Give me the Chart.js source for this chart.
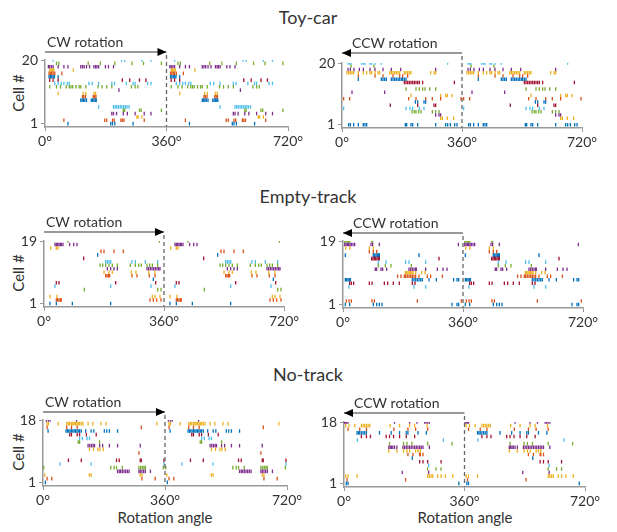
<!DOCTYPE html>
<html>
<head>
<meta charset="utf-8">
<script src="https://cdn.jsdelivr.net/npm/chart.js@4.4.1/dist/chart.umd.min.js"></script>
<style>
  body { margin: 0; background: #fff; }
  #wrap { position: relative; width: 617px; height: 532px; font-family: Lato, "Open Sans", sans-serif; color: #333; }
  .box { position: absolute; }
  .lbl { position: absolute; white-space: nowrap; }
  .title { font-size: 18px; transform: translateX(-50%); }
  .ylab { font-size: 15px; transform: translate(-50%, -50%) rotate(-90deg); }
  .xlab { font-size: 15px; transform: translateX(-50%); }
</style>
</head>
<body>
<div id="wrap">
  <div class="lbl title" style="left:308px; top:6px;">Toy-car</div>
  <div class="lbl title" style="left:308px; top:185px;">Empty-track</div>
  <div class="lbl title" style="left:308px; top:363px;">No-track</div>
  <div class="lbl ylab" style="left:18px; top:93px;">Cell #</div>
  <div class="lbl ylab" style="left:18px; top:273px;">Cell #</div>
  <div class="lbl ylab" style="left:18px; top:452px;">Cell #</div>
  <div class="lbl xlab" style="left:165px; top:508px;">Rotation angle</div>
  <div class="lbl xlab" style="left:465px; top:508px;">Rotation angle</div>
</div>
<script>
// spike angles (deg) for one rotation, one list per cell, cell 1 first
const toyCarCW = [
  [68, 195, 200, 207, 261],
  [56, 177, 183, 200, 205, 225, 229, 234, 294],
  [272, 276, 287],
  [198, 203, 212, 232, 244, 267, 294, 314],
  [232, 236, 280, 285, 345],
  [159, 203, 208, 213, 218, 223, 228, 233, 238, 243, 249],
  [],
  [106, 110, 114, 118, 123, 137, 141, 145, 149, 152],
  [111, 115, 120, 143, 147, 151],
  [39, 113, 121, 145, 150],
  [219],
  [14, 34, 46, 63, 72, 77, 82, 92, 101, 106, 121, 157, 169, 183, 198, 256, 267, 275],
  [29, 39, 48, 56, 66, 72, 130, 140, 159, 198, 206, 241, 261, 267, 304, 314],
  [14, 24, 39, 229, 251, 280, 299],
  [12, 16, 20, 24, 28, 39],
  [12, 16, 20, 24, 29, 50],
  [14, 18, 22, 26, 84],
  [10, 14, 19, 24, 39, 56, 68, 106, 111, 116, 123, 132, 145, 150, 154, 159, 179, 188, 203],
  [34, 41, 128, 164, 207, 258, 292, 345],
  [24, 227, 236, 287, 314]
];
const toyCarCCW = [
  [20, 25, 35, 49, 64, 69, 74, 190, 194, 207, 212, 227, 281, 311, 317, 325, 338, 345],
  [],
  [296, 301, 316, 335],
  [281, 291, 296],
  [210, 217, 222, 230, 237, 271, 281, 291],
  [5, 192, 204, 212, 232, 246],
  [145, 227, 276, 281],
  [220, 227, 246, 251],
  [5, 23, 200, 222, 251, 271, 296, 357],
  [207, 296, 311, 316, 330],
  [30, 128],
  [192, 222, 232, 242, 249, 263, 281],
  [],
  [187, 192, 197, 202, 207, 212, 217, 222, 227, 232, 242, 337],
  [49, 118, 123, 128, 133, 148, 153, 158, 163, 168, 173, 178, 182, 187, 192],
  [49, 99, 123, 153, 173, 182, 197],
  [15, 20, 25, 30, 35, 49, 64, 74, 84, 89, 99, 108, 113, 143, 148, 153, 158, 163, 168, 173, 187, 192, 197, 202, 207, 266, 276, 281],
  [18, 25, 36, 52, 64, 84, 99, 123, 148, 176, 281],
  [27, 96],
  [18, 22, 27, 59, 64, 69, 84, 89, 99, 118, 317]
];
const emptyCW = [
  [18, 37, 85, 200],
  [37, 41, 45, 49, 52, 318, 328, 338, 351],
  [18, 39, 325, 333, 348],
  [],
  [121, 341, 351],
  [33, 200, 321],
  [37, 45, 215, 335],
  [328],
  [185, 189, 193, 197, 264, 279, 316, 333],
  [180, 195, 205, 262, 276, 314, 333],
  [190, 200, 210, 220, 309, 314, 319, 324, 329, 334, 339, 344, 348],
  [168, 176, 185, 195, 205, 220, 259, 274, 284, 292, 309, 317, 325, 341],
  [185, 190, 195, 200, 264, 274, 304, 341],
  [119],
  [161],
  [171, 180, 210, 238],
  [20, 37, 42],
  [33, 37, 41, 45, 49, 52, 57, 77, 89, 99],
  [72, 346]
];
const emptyCCW = [
  [7, 20, 91, 101, 109, 117, 327, 342, 347],
  [10, 18, 25, 87, 94, 223, 355],
  [],
  [],
  [],
  [18, 213, 248],
  [20, 25, 32, 79, 87, 124, 134, 151, 169, 208, 216],
  [7, 11, 15, 19, 22, 208, 213, 218, 223, 228, 233, 238, 258, 280, 332, 342, 347],
  [164, 174, 184, 188, 193, 198, 203, 208, 213, 218, 228, 253, 263, 298],
  [187, 191, 195, 199, 203, 207, 210, 218, 236, 246],
  [97, 101, 114, 119, 131, 198, 203, 208, 213, 218, 220, 248, 283, 300, 312],
  [106, 127, 144, 205],
  [106, 129, 188, 198, 248],
  [86, 90, 94, 98, 102, 106, 109, 288],
  [7, 91, 95, 99, 103, 107, 109, 228],
  [79, 91, 101],
  [8, 20, 79, 91],
  [5, 9, 13, 17, 21, 25, 30, 35, 84, 89, 109, 346],
  [5, 9, 13, 17, 20, 86, 89]
];
const noTrackCW = [
  [7],
  [12, 26, 292, 331],
  [5, 137, 142, 287, 292],
  [220, 225, 229, 234, 239, 244, 249, 254, 283, 287, 292, 297, 302, 317],
  [2, 200, 210, 217, 234, 283, 288, 293, 298, 302, 355],
  [50, 142, 357],
  [75, 113, 217, 225, 287, 290, 357],
  [],
  [283],
  [137, 149, 162, 168, 178],
  [133, 138, 143, 148, 152, 167, 176, 196, 220, 287],
  [104, 108, 167],
  [108, 116, 130, 137],
  [79, 84, 101, 108, 128, 157],
  [15, 68, 72, 76, 80, 84, 88, 92, 96, 100, 104, 108, 113, 126, 142, 150, 181, 188, 196, 220],
  [12, 70, 84, 101, 290],
  [12, 16, 45, 70, 75, 79, 84, 88, 92, 96, 100, 104, 108, 113, 118, 133, 147, 171, 186, 336],
  [10, 16, 21, 99]
];
const noTrackCCW = [
  [7, 12, 343],
  [9, 184],
  [5, 12, 39, 250, 255, 260, 265, 280, 290, 303, 325],
  [174, 253],
  [250, 275, 290],
  [253],
  [226, 236, 250, 290],
  [204],
  [191, 206, 226, 228, 236],
  [134, 158, 178, 188, 196, 214, 221, 228],
  [134, 138, 142, 146, 151, 158, 176, 181, 186, 191, 196, 201, 206, 211, 216, 221, 226, 231, 236, 255],
  [136, 178, 188, 203, 250, 323],
  [40, 297],
  [52, 67, 79, 126, 136, 148, 166, 186, 211],
  [39, 43, 47, 52, 57, 62, 67, 106, 141, 166, 186, 191, 221, 246],
  [12, 47, 67, 149, 191, 214, 250],
  [5, 15, 32, 52, 57, 62, 67, 72, 77, 138, 166, 196, 211, 248],
  [2, 5, 8, 12, 151, 196, 218, 241, 245, 250, 255]
];
const angleTicks = [0, 360, 720];
const cellColors = ["#0072BD", "#D95319", "#EDB120", "#7E2F8E", "#77AC30", "#4DBEEE", "#A2142F"];

Chart.defaults.font.family = 'Lato, "Open Sans", sans-serif';
Chart.defaults.color = "#333";

// chart area boxes in page pixels
const panels = [
  { cells: toyCarCW, dir: "CW", L: 45, R: 288, T: 60, B: 127, cx: 0, cy: 30, arrowY: 52 },
  { cells: toyCarCCW, dir: "CCW", L: 342, R: 582, T: 63, B: 128, cx: 308, cy: 30, arrowY: 53 },
  { cells: emptyCW, dir: "CW", L: 44, R: 284, T: 241, B: 307, cx: 0, cy: 210, arrowY: 232 },
  { cells: emptyCCW, dir: "CCW", L: 343, R: 583, T: 241, B: 308, cx: 308, cy: 210, arrowY: 233 },
  { cells: noTrackCW, dir: "CW", L: 43, R: 287, T: 420, B: 486, cx: 0, cy: 390, arrowY: 412 },
  { cells: noTrackCCW, dir: "CCW", L: 344, R: 585, T: 422, B: 487, cx: 308, cy: 390, arrowY: 413 }
];

const arrowPlugin = {
  id: "arrow",
  afterDatasetsDraw(chart, args, opts) {
    const ctx = chart.ctx;
    const x0 = chart.scales.x.getPixelForValue(0);
    const x360 = chart.scales.x.getPixelForValue(360);
    const ay = opts.y;
    ctx.save();
    // dashed line at 360
    ctx.strokeStyle = "#666";
    ctx.lineWidth = 1.3;
    ctx.setLineDash([4, 3]);
    ctx.beginPath();
    ctx.moveTo(x360, ay + 3);
    ctx.lineTo(x360, chart.chartArea.bottom);
    ctx.stroke();
    ctx.setLineDash([]);
    // arrow
    ctx.strokeStyle = "#777";
    ctx.lineWidth = 1.5;
    ctx.beginPath();
    ctx.moveTo(x0, ay);
    ctx.lineTo(x360, ay);
    ctx.stroke();
    const tip = opts.dir === "CW" ? x360 : x0;
    const back = opts.dir === "CW" ? -9 : 9;
    ctx.fillStyle = "#000";
    ctx.beginPath();
    ctx.moveTo(tip, ay);
    ctx.lineTo(tip + back, ay - 4);
    ctx.lineTo(tip + back, ay + 4);
    ctx.closePath();
    ctx.fill();
    ctx.fillStyle = "#333";
    ctx.font = '14px Lato, "Open Sans", sans-serif';
    ctx.textBaseline = "middle";
    ctx.fillText(opts.dir + " rotation", x0 + (opts.dir === "CW" ? 2 : 10), ay - 10);
    ctx.restore();
  }
};

const wrap = document.getElementById("wrap");
panels.forEach(p => {
  const w = p.cx === 0 ? 308 : 309;
  const h = 130;
  const yW = 30, xH = 25;
  const n = p.cells.length;
  const box = document.createElement("div");
  box.className = "box";
  box.style.left = p.cx + "px";
  box.style.top = p.cy + "px";
  const cv = document.createElement("canvas");
  cv.width = w; cv.height = h;
  cv.style.width = w + "px"; cv.style.height = h + "px";
  box.appendChild(cv);
  wrap.appendChild(box);

  // the figure plots the same cycle twice (0-360 and 360-720)
  const datasets = p.cells.map((angles, i) => ({
    data: angles.map(a => ({ x: a, y: i + 1 })).concat(angles.map(a => ({ x: a + 360, y: i + 1 }))),
    borderColor: cellColors[i % 7],
    backgroundColor: cellColors[i % 7],
    pointStyle: "line",
    rotation: 90,
    pointRadius: 1.8,
    borderWidth: 1.3
  }));

  new Chart(cv, {
    type: "scatter",
    data: { datasets },
    options: {
      responsive: false,
      animation: false,
      devicePixelRatio: 1,
      events: [],
      layout: {
        padding: {
          left: p.L - p.cx - yW,
          right: p.cx + w - p.R,
          top: p.T - p.cy,
          bottom: p.cy + h - p.B - xH
        }
      },
      plugins: {
        legend: { display: false },
        tooltip: { enabled: false },
        arrow: { dir: p.dir, y: p.arrowY - p.cy }
      },
      scales: {
        x: {
          type: "linear",
          min: 0,
          max: 720,
          afterBuildTicks: s => { s.ticks = angleTicks.map(v => ({ value: v })); },
          afterFit: s => { s.height = xH; },
          ticks: { callback: v => v + "\u00b0", font: { size: 14 }, padding: 2, maxRotation: 0, color: "#333" },
          grid: { display: true, drawOnChartArea: false, tickLength: 4, color: "#999" },
          border: { display: true, color: "#999", width: 1.5 }
        },
        y: {
          type: "linear",
          min: 0,
          max: n,
          afterBuildTicks: s => { s.ticks = [{ value: 1 }, { value: n }]; },
          afterFit: s => { s.width = yW; },
          ticks: { font: { size: 14 }, padding: 3, color: "#333" },
          grid: { display: true, drawOnChartArea: false, tickLength: 4, color: "#999" },
          border: { display: true, color: "#999", width: 1.5 }
        }
      }
    },
    plugins: [arrowPlugin]
  });
});
</script>
</body>
</html>
